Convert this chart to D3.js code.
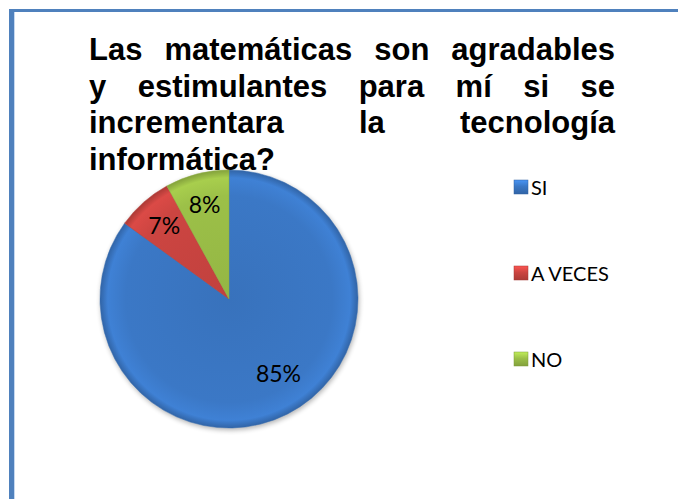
<!DOCTYPE html>
<html>
<head>
<meta charset="utf-8">
<script src="https://cdn.jsdelivr.net/npm/d3@7/dist/d3.min.js"></script>
<style>
  html, body { margin: 0; padding: 0; background: #fff; }
  svg { display: block; }
</style>
</head>
<body>
<script>
const width = 678;
const height = 499;

const titleLines = [
  ["Las", "matemáticas", "son", "agradables"],
  ["y", "estimulantes", "para", "mí", "si", "se"],
  ["incrementara", "la", "tecnología"],
  ["informática?"]
];

const categories = ["SI", "A VECES", "NO"];
const values = [85, 7, 8];
const labels = ["85%", "7%", "8%"];
const colors = ["#3b78c6", "#cc4541", "#9cc048"];

const svg = d3.select('body').append('svg')
  .attr('width', width)
  .attr('height', height);

const defs = svg.append('defs');

// bevel-ish gradients for each slice (pie group is centred on 0,0)
colors.forEach((c, i) => {
  const g = defs.append('radialGradient')
    .attr('id', 'grad' + i)
    .attr('gradientUnits', 'userSpaceOnUse')
    .attr('cx', 0).attr('cy', 0).attr('r', 129);
  g.append('stop').attr('offset', '0%').attr('stop-color', d3.color(c).darker(0.15));
  g.append('stop').attr('offset', '80%').attr('stop-color', c);
  g.append('stop').attr('offset', '94%').attr('stop-color', d3.color(c).brighter(0.2));
  g.append('stop').attr('offset', '100%').attr('stop-color', d3.color(c).darker(0.5));

  const lg = defs.append('linearGradient')
    .attr('id', 'leg' + i)
    .attr('x1', 0).attr('y1', 0).attr('x2', 0).attr('y2', 1);
  lg.append('stop').attr('offset', '0%').attr('stop-color', d3.color(c).brighter(0.6));
  lg.append('stop').attr('offset', '45%').attr('stop-color', c);
  lg.append('stop').attr('offset', '100%').attr('stop-color', d3.color(c).darker(0.5));
});

const shadow = defs.append('filter').attr('id', 'shadow')
  .attr('x', '-10%').attr('y', '-10%').attr('width', '120%').attr('height', '120%')
  .attr('color-interpolation-filters', 'sRGB');
shadow.append('feGaussianBlur').attr('in', 'SourceAlpha').attr('stdDeviation', 2.5);
shadow.append('feOffset').attr('dx', 1).attr('dy', 2).attr('result', 'blur');
shadow.append('feComponentTransfer').append('feFuncA').attr('type', 'linear').attr('slope', 0.3);
const merge = shadow.append('feMerge');
merge.append('feMergeNode');
merge.append('feMergeNode').attr('in', 'SourceGraphic');

// page border
svg.append('rect').attr('x', 9).attr('y', 9).attr('width', width).attr('height', 3).attr('fill', '#4f81bd');
svg.append('rect').attr('x', 9).attr('y', 9).attr('width', 5).attr('height', height).attr('fill', '#4f81bd');
svg.append('rect').attr('x', 14).attr('y', 12).attr('width', 1).attr('height', height).attr('fill', '#c6d9f1');

// pie
const cx = 229, cy = 299, R = 129;
const pie = d3.pie().sort(null).value(d => d);
const arcs = pie(values);
const arc = d3.arc().innerRadius(0).outerRadius(R);
const labelArc = d3.arc().innerRadius(98).outerRadius(98);

const g = svg.append('g').attr('transform', `translate(${cx},${cy})`);

g.append('g').attr('filter', 'url(#shadow)')
  .selectAll('path')
  .data(arcs)
  .join('path')
  .attr('d', arc)
  .attr('fill', (d, i) => `url(#grad${i})`)
  .attr('stroke', (d, i) => d3.color(colors[i]).darker(0.3))
  .attr('stroke-width', 0.5);

g.selectAll('text.lbl')
  .data(arcs)
  .join('text')
  .attr('class', 'lbl')
  .attr('transform', (d, i) => {
    const [x, y] = labelArc.centroid(d);
    return i === 0 ? `translate(${x + 5},${y - 13})` : `translate(${x},${y})`;
  })
  .attr('text-anchor', 'middle')
  .attr('dominant-baseline', 'central')
  .style('font-family', 'Lato, "Open Sans", sans-serif')
  .style('font-size', '23px')
  .attr('fill', '#000')
  .text((d, i) => labels[i]);

// title, justified between left and right (drawn over the pie)
const titleLeft = 89, titleRight = 615, firstBase = 60, linePitch = 36.5;
const title = svg.append('g')
  .style('font-family', 'Arial, "Liberation Sans", sans-serif')
  .style('font-weight', 'bold')
  .style('font-size', '31px')
  .attr('fill', '#000');

titleLines.forEach((words, li) => {
  const y = firstBase + li * linePitch;
  const nodes = words.map(w => title.append('text').attr('y', y).text(w));
  const widths = nodes.map(n => n.node().getComputedTextLength());
  const total = d3.sum(widths);
  const last = li === titleLines.length - 1;
  const gap = (last || words.length < 2) ? 8.6 : (titleRight - titleLeft - total) / (words.length - 1);
  let x = titleLeft;
  nodes.forEach((n, i) => { n.attr('x', x); x += widths[i] + gap; });
});

// legend
const legendY = d3.scalePoint().domain(categories).range([187, 359]);
const legend = svg.append('g')
  .selectAll('g')
  .data(categories)
  .join('g')
  .attr('transform', d => `translate(514,${legendY(d)})`);

legend.append('rect')
  .attr('x', 0).attr('y', -7)
  .attr('width', 14).attr('height', 14)
  .attr('fill', (d, i) => `url(#leg${i})`)
  .attr('stroke', (d, i) => d3.color(colors[i]).darker(0.6))
  .attr('stroke-width', 0.5);

legend.append('text')
  .attr('x', 17)
  .attr('y', 0)
  .attr('dominant-baseline', 'central')
  .style('font-family', 'Lato, "Open Sans", sans-serif')
  .style('font-size', '20px')
  .attr('fill', '#000')
  .text(d => d);
</script>
</body>
</html>
